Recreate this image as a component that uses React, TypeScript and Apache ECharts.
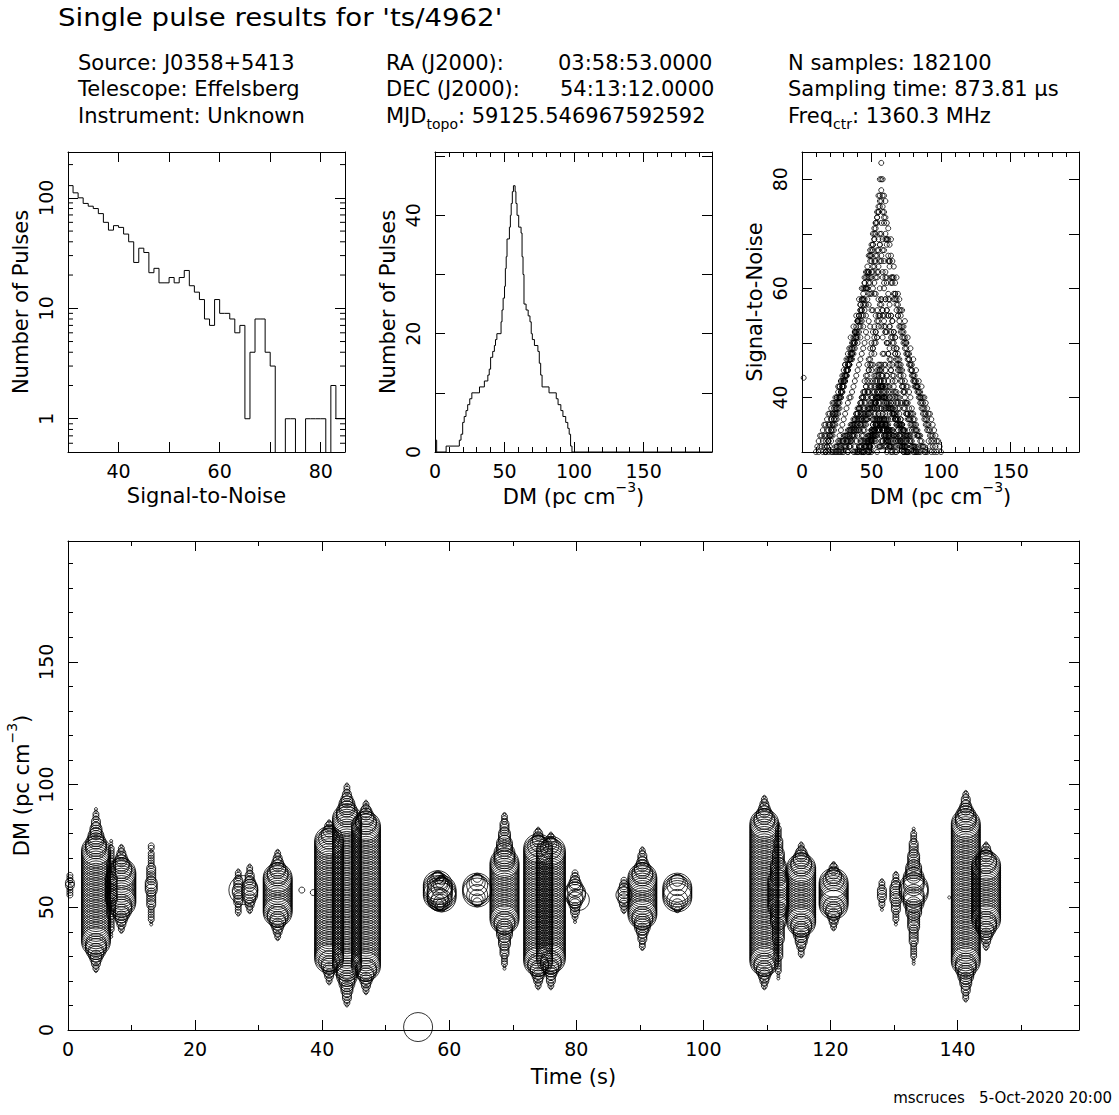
import React, { useEffect, useRef } from 'react';
import * as echarts from 'echarts';

const FONT = "'DejaVu Sans', 'Liberation Sans', sans-serif";
const INK = '#000';

// ---------- axis ranges ----------
const SNR_MIN = 30;
const SNR_MAX = 84.8;
const DM_MAX = 199.2;
const T_MAX = 159.12;
const HIST_Y_MAX = 50.7;

// ---------- panel 1: S/N histogram (bin left edges, counts) ----------
const snrBinEdges = [30, 31, 32, 33, 34, 35, 36, 37, 38, 39, 40, 41, 42, 43, 44, 45, 46, 47, 48, 49, 50, 51, 52, 53, 54, 55, 56, 57, 58, 59, 60, 61, 62, 63, 64, 65, 66, 67, 68, 69, 70, 71, 72, 73, 74, 75, 76, 77, 78, 79, 80, 81, 82, 83, 84];
const snrCounts = [129, 111, 100, 89, 84, 80, 72, 60, 51, 56, 54, 47, 40, 26, 35, 32, 21, 23, 17, 17, 19, 17, 19, 22, 16, 14, 12, 8, 7, 12, 9, 9, 8, 6, 7, 1, 4, 8, 8, 4, 3, 0, 0, 1, 1, 0, 0, 1, 1, 1, 1, 0, 2, 1, 1];
const logMinorTicks = [0.6, 0.7, 0.8, 0.9, 2, 3, 4, 5, 6, 7, 8, 9, 20, 30, 40, 50, 60, 70, 80, 90, 200];

// ---------- panel 2: DM histogram (step left edges, counts) ----------
const dmHistEdges = [0, 1.2, 8, 17.5, 18.7, 19.9, 21, 22.3, 23.5, 25, 26.5, 32, 35.5, 38, 39, 40, 41.5, 42.7, 43.5, 44.5, 47.5, 48.2, 49, 50, 50.6, 51.2, 51.8, 53.5, 54.2, 54.8, 55.6, 56.4, 57.6, 58.2, 59, 60.2, 61.9, 62.6, 63.3, 64, 65.5, 67, 68.3, 69.2, 70, 71.5, 74, 75, 76, 77, 82, 87.2, 88.5, 90.5, 92, 94, 95.5, 96.5, 97.5, 98.5, 199.2];
const dmHistCounts = [2, 0, 1, 2, 3, 5, 6, 7, 8, 9, 10, 11, 12, 13, 14, 16, 17, 18, 19, 20, 22, 24, 26, 28, 31, 33, 36, 38, 40, 42, 44, 45, 44, 42, 40, 38, 37, 33, 30, 25, 24, 23, 22, 20, 19, 18, 17, 15, 13, 11, 10, 9, 8, 7, 6, 5, 4, 3, 1, 0, 0];

// ---------- single pulse candidates ----------
// each pulse: first DM trial (dm0) and S/N at successive 1 pc cm^-3 DM trials
const pulseTimes = [0.3, 4.4, 6.8, 8.4, 13.1, 26.8, 27.6, 28.6, 33.0, 36.8, 38.6, 41.1, 43.9, 46.9, 55.1, 58.2, 58.8, 64.4, 68.7, 74.0, 76.0, 79.8, 80.4, 87.5, 90.4, 95.9, 109.6, 111.8, 115.4, 120.5, 128.1, 130.3, 133.1, 138.7, 141.3, 144.5];

const p01 = { dm0: 55, sn: [31, 31, 32, 32, 33, 33, 32, 32, 31] };
const p02 = { dm0: 24, sn: [30, 31, 32, 33, 34, 35, 36, 37, 38, 39, 40, 40, 41, 42, 43, 44, 45, 46, 47, 48, 49, 50, 52, 51, 54, 53, 56, 56, 59, 59, 62, 63, 68, 65, 62, 60, 58, 56, 55, 53, 52, 51, 50, 48, 47, 46, 45, 44, 42, 41, 40, 39, 39, 38, 37, 37, 36, 35, 35, 34, 33, 33, 32, 31, 31, 30, 30] };
const p03 = { dm0: 38, sn: [30, 30, 30, 31, 31, 31, 32, 32, 32, 33, 33, 33, 34, 34, 34, 35, 35, 35, 36, 36, 36, 36, 35, 35, 35, 34, 34, 34, 33, 33, 33, 32, 32, 32, 31, 31, 31, 30, 30, 30] };
const p04 = { dm0: 40, sn: [30, 31, 32, 33, 34, 35, 36, 37, 38, 39, 40, 40, 41, 42, 43, 44, 45, 46, 48, 46, 45, 44, 43, 42, 41, 40, 39, 38, 37, 36, 35, 34, 33, 32, 31, 30] };
const p05 = { dm0: 43, sn: [30, 30, 31, 31, 31, 32, 32, 32, 33, 33, 33, 34, 34, 34, 35, 35, 35, 35, 34, 34, 34, 33, 33, 33, 32, 32, 32, 31, 31, 31, 30, 31, 32] };
const p06 = { dm0: 47, sn: [30, 31, 31, 32, 32, 33, 33, 34, 34, 35, 35, 34, 34, 33, 33, 32, 31, 31, 30] };
const p07 = { dm0: 57, sn: [42] };
const p08 = { dm0: 48, sn: [30, 31, 32, 33, 34, 35, 36, 37, 38, 38, 37, 36, 35, 34, 34, 33, 32, 31, 31, 30] };
const p09 = { dm0: 37, sn: [30, 31, 32, 33, 34, 35, 36, 37, 38, 39, 40, 41, 43, 45, 46, 48, 50, 51, 53, 55, 53, 51, 48, 46, 44, 42, 40, 39, 38, 37, 36, 35, 34, 33, 32, 31, 30] };
const p10 = { dm0: 57, sn: [31] };
const p11 = { dm0: 56, sn: [31] };
const p12 = { dm0: 19, sn: [30, 31, 32, 33, 34, 35, 36, 37, 38, 40, 41, 42, 43, 44, 45, 46, 47, 48, 49, 50, 52, 51, 54, 53, 56, 55, 58, 57, 60, 59, 61, 62, 63, 64, 65, 66, 67, 68, 70, 67, 65, 62, 61, 58, 57, 55, 54, 52, 51, 49, 48, 47, 46, 45, 44, 43, 42, 42, 41, 40, 38, 37, 36, 34, 33, 31, 30] };
const p13 = { dm0: 10, sn: [30, 31, 32, 33, 33, 34, 35, 35, 36, 37, 37, 38, 39, 39, 40, 40, 42, 42, 43, 43, 44, 46, 45, 47, 46, 49, 48, 51, 50, 53, 52, 55, 54, 58, 57, 61, 60, 63, 62, 66, 67, 68, 70, 72, 74, 77, 80, 83, 80, 77, 76, 72, 71, 68, 69, 65, 64, 61, 62, 59, 58, 56, 56, 53, 54, 50, 51, 48, 49, 46, 47, 44, 45, 42, 43, 41, 42, 40, 40, 39, 38, 37, 37, 36, 35, 34, 33, 32, 32, 31, 30] };
const p14 = { dm0: 15, sn: [30, 31, 32, 33, 34, 35, 36, 37, 38, 39, 40, 41, 42, 43, 44, 45, 46, 47, 48, 49, 51, 50, 53, 52, 55, 54, 58, 57, 60, 60, 62, 63, 64, 66, 67, 68, 70, 71, 72, 73, 74, 75, 76, 74, 72, 69, 68, 65, 64, 61, 61, 58, 58, 56, 55, 53, 52, 51, 50, 49, 48, 47, 46, 45, 44, 43, 42, 42, 41, 40, 39, 38, 37, 36, 35, 34, 32, 31, 30] };
const p15 = { dm0: 1.2, sn: [43.6] };
const p16 = { dm0: 51, sn: [36, 38, 39, 40, 41, 42, 42, 42, 41, 40, 38, 36, 34] };
const p17 = { dm0: 50, sn: [33, 35, 37, 39, 41, 42, 43, 42, 40, 38, 36, 34, 32] };
const p18 = { dm0: 52, sn: [34, 36, 38, 40, 42, 42, 42, 40, 38, 36, 33] };
const p19 = { dm0: 25, sn: [30, 30, 31, 31, 32, 32, 33, 33, 34, 34, 35, 35, 36, 36, 37, 37, 38, 38, 39, 40, 41, 42, 43, 45, 46, 48, 49, 51, 52, 54, 55, 57, 58, 56, 55, 53, 52, 50, 49, 47, 46, 44, 43, 41, 40, 40, 39, 39, 38, 38, 37, 37, 36, 36, 35, 35, 34, 34, 33, 33, 32, 31, 31, 30] };
const p20 = { dm0: 17, sn: [30, 31, 32, 33, 34, 35, 36, 37, 38, 39, 40, 41, 42, 43, 44, 45, 46, 47, 48, 49, 50, 52, 51, 54, 53, 56, 55, 58, 57, 60, 60, 61, 62, 63, 64, 65, 66, 67, 69, 70, 72, 69, 67, 63, 62, 59, 58, 55, 54, 52, 51, 49, 47, 46, 45, 43, 42, 41, 39, 37, 36, 35, 34, 33, 31, 30] };
const p21 = { dm0: 17, sn: [30, 31, 32, 33, 33, 34, 35, 36, 37, 38, 39, 40, 41, 42, 43, 44, 45, 46, 47, 47, 48, 49, 51, 50, 52, 51, 54, 53, 56, 55, 58, 57, 59, 59, 60, 61, 62, 63, 64, 65, 66, 63, 61, 58, 56, 55, 53, 51, 50, 49, 48, 46, 45, 44, 43, 42, 41, 39, 37, 36, 34, 33, 31, 30] };
const p22 = { dm0: 44, sn: [30, 30, 31, 32, 33, 33, 34, 35, 36, 37, 38, 39, 39, 38, 37, 36, 35, 34, 33, 32, 31] };
const p23 = { dm0: 53, sn: [39] };
const p24 = { dm0: 48, sn: [30, 31, 32, 33, 34, 35, 36, 37, 36, 35, 34, 33, 32, 31] };
const p25 = { dm0: 33, sn: [30, 31, 31, 32, 33, 34, 34, 35, 36, 37, 37, 38, 39, 40, 41, 41, 42, 42, 43, 44, 44, 45, 46, 45, 44, 44, 43, 42, 42, 41, 40, 39, 38, 37, 36, 35, 34, 33, 33, 32, 31, 30] };
const p26 = { dm0: 49, sn: [32, 34, 36, 38, 40, 41, 42, 43, 43, 42, 40, 37, 35] };
const p27 = { dm0: 17, sn: [30, 31, 32, 33, 34, 35, 36, 37, 38, 39, 40, 41, 42, 43, 44, 45, 46, 47, 48, 49, 50, 52, 51, 54, 55, 57, 56, 59, 60, 62, 62, 63, 65, 66, 67, 69, 70, 72, 74, 76, 78, 75, 73, 70, 69, 66, 65, 62, 62, 59, 59, 57, 55, 54, 53, 52, 51, 50, 49, 48, 47, 46, 45, 44, 43, 42, 42, 41, 40, 39, 38, 37, 36, 35, 34, 33, 32, 31, 30] };
const p28 = { dm0: 21, sn: [30, 30, 30, 31, 31, 31, 32, 32, 32, 33, 33, 33, 33, 34, 34, 34, 35, 35, 35, 36, 36, 36, 36, 37, 37, 37, 38, 38, 38, 39, 39, 39, 40, 40, 40, 40, 40, 40, 39, 39, 39, 38, 38, 38, 37, 37, 37, 36, 36, 35, 35, 35, 34, 34, 33, 33, 33, 32, 32, 31, 31, 31, 30, 30] };
const p29 = { dm0: 30, sn: [30, 31, 32, 32, 33, 34, 35, 35, 36, 37, 38, 38, 39, 40, 41, 43, 44, 46, 47, 49, 50, 52, 53, 55, 56, 58, 60, 58, 56, 54, 52, 50, 48, 46, 45, 43, 41, 40, 39, 38, 37, 36, 35, 34, 32, 31, 30] };
const p30 = { dm0: 41, sn: [30, 31, 32, 33, 34, 35, 36, 37, 38, 40, 41, 42, 43, 44, 45, 46, 45, 44, 43, 41, 40, 38, 37, 36, 34, 33, 31, 30] };
const p31 = { dm0: 49, sn: [30, 30, 31, 32, 32, 33, 34, 34, 33, 32, 31, 31, 30] };
const p32 = { dm0: 43, sn: [30, 30, 31, 31, 32, 32, 33, 33, 34, 34, 35, 35, 36, 36, 35, 35, 34, 33, 32, 32, 31, 30] };
const p33 = { dm0: 27, sn: [30, 30, 30, 31, 31, 31, 32, 32, 32, 33, 33, 33, 34, 34, 34, 35, 35, 35, 36, 36, 36, 37, 37, 38, 38, 39, 39, 40, 40, 41, 42, 41, 40, 40, 39, 39, 38, 38, 37, 37, 36, 36, 35, 35, 35, 34, 34, 33, 33, 33, 32, 32, 31, 31, 30, 30] };
const p34 = { dm0: 54, sn: [30] };
const p35 = { dm0: 12, sn: [30, 31, 31, 32, 33, 33, 34, 35, 35, 36, 37, 37, 38, 39, 40, 40, 41, 42, 43, 44, 44, 45, 46, 47, 48, 50, 51, 52, 54, 55, 56, 58, 58, 61, 60, 63, 63, 66, 65, 68, 69, 71, 73, 75, 77, 80, 77, 74, 73, 69, 69, 65, 66, 62, 62, 59, 58, 57, 56, 55, 53, 52, 51, 50, 48, 47, 46, 45, 44, 43, 43, 42, 41, 40, 40, 39, 38, 37, 36, 35, 34, 33, 33, 32, 31, 30] };
const p36 = { dm0: 33, sn: [30, 31, 32, 33, 34, 35, 36, 37, 38, 39, 40, 40, 41, 42, 44, 45, 47, 46, 49, 50, 52, 51, 54, 55, 57, 55, 53, 52, 50, 48, 47, 45, 44, 42, 41, 40, 39, 38, 36, 35, 34, 33, 31, 30] };

const pulseList = [p01, p02, p03, p04, p05, p06, p07, p08, p09, p10, p11, p12, p13, p14, p15, p16, p17, p18, p19, p20, p21, p22, p23, p24, p25, p26, p27, p28, p29, p30, p31, p32, p33, p34, p35, p36];

// PGPLOT circle symbols 20..26 (diameters in px)
const SYMBOL_DIAMETERS = [3, 6, 9, 12, 16, 21, 29];

// ---------- layout ----------
const GRIDS = [
  { left: 68, top: 152, width: 277, height: 300 },
  { left: 435, top: 152, width: 277, height: 300 },
  { left: 802, top: 152, width: 277, height: 300 },
  { left: 68, top: 541, width: 1011, height: 489 },
];

const TICK_FONT = 19;
const NAME_FONT = 21;

function valAxis(gridIndex: number, position: string, min: number, max: number, interval: number, tickLen: number, showLine: boolean, extra: any = {}) {
  return {
    type: 'value',
    gridIndex,
    position,
    min,
    max,
    interval,
    nameMoveOverlap: false,
    axisLine: { show: showLine, onZero: false, lineStyle: { color: INK, width: 1 } },
    axisTick: { show: true, inside: true, length: tickLen, lineStyle: { color: INK, width: 1 } },
    splitLine: { show: false },
    minorTick: { show: false },
    axisLabel: { show: false },
    ...extra,
  };
}

const xLabel = (formatter: (v: number) => string) => ({
  show: true,
  margin: 9,
  fontSize: TICK_FONT,
  fontFamily: FONT,
  color: INK,
  showMinLabel: true,
  showMaxLabel: false,
  formatter,
});
const yLabel = (formatter: (v: number) => string) => ({
  show: true,
  margin: 13,
  rotate: 90,
  fontSize: TICK_FONT,
  fontFamily: FONT,
  color: INK,
  showMinLabel: true,
  showMaxLabel: false,
  formatter,
});
const nameStyle = { fontSize: NAME_FONT, fontFamily: FONT, color: INK };
const dmName = '{n|DM (pc cm}{s|\u22123}{n|)}';
const dmNameStyle = {
  ...nameStyle,
  rich: {
    n: { fontSize: NAME_FONT, fontFamily: FONT, color: INK, lineHeight: 34 },
    s: { fontSize: 14, fontFamily: FONT, color: INK, verticalAlign: 'top', lineHeight: 14 },
  },
};

const every = (step: number) => (v: number) => (Math.abs(v / step - Math.round(v / step)) < 1e-6 ? String(Math.round(v)) : '');

function buildOption() {
  const xAxis: any[] = [
    // 0,1 panel 1
    valAxis(0, 'bottom', SNR_MIN, SNR_MAX, 10, 10, true, {
      axisLabel: xLabel(every(20)),
      name: 'Signal-to-Noise', nameLocation: 'middle', nameGap: 33, nameTextStyle: nameStyle,
    }),
    valAxis(0, 'top', SNR_MIN, SNR_MAX, 10, 10, true),
    // 2-5 panel 2
    valAxis(1, 'bottom', 0, DM_MAX, 50, 10, true, {
      axisLabel: xLabel(every(50)),
      name: dmName, nameLocation: 'middle', nameGap: 28, nameTextStyle: dmNameStyle,
    }),
    valAxis(1, 'bottom', 0, DM_MAX, 10, 5, false),
    valAxis(1, 'top', 0, DM_MAX, 50, 10, true),
    valAxis(1, 'top', 0, DM_MAX, 10, 5, false),
    // 6-9 panel 3
    valAxis(2, 'bottom', 0, DM_MAX, 50, 10, true, {
      axisLabel: xLabel(every(50)),
      name: dmName, nameLocation: 'middle', nameGap: 28, nameTextStyle: dmNameStyle,
    }),
    valAxis(2, 'bottom', 0, DM_MAX, 10, 5, false),
    valAxis(2, 'top', 0, DM_MAX, 50, 10, true),
    valAxis(2, 'top', 0, DM_MAX, 10, 5, false),
    // 10-13 bottom panel
    valAxis(3, 'bottom', 0, T_MAX, 20, 10, true, {
      axisLabel: xLabel(every(20)),
      name: 'Time (s)', nameLocation: 'middle', nameGap: 36, nameTextStyle: nameStyle,
    }),
    valAxis(3, 'bottom', 0, T_MAX, 10, 5, false),
    valAxis(3, 'top', 0, T_MAX, 20, 10, true),
    valAxis(3, 'top', 0, T_MAX, 10, 5, false),
  ];

  const logAxis = (position: string, extra: any = {}) => ({
    type: 'log',
    logBase: 10,
    gridIndex: 0,
    position,
    min: 0.5,
    max: 260,
    nameMoveOverlap: false,
    axisLine: { show: true, onZero: false, lineStyle: { color: INK, width: 1 } },
    axisTick: { show: true, inside: true, length: 10, lineStyle: { color: INK, width: 1 } },
    splitLine: { show: false },
    axisLabel: { show: false },
    ...extra,
  });

  const yAxis: any[] = [
    // 0,1 panel 1 (log)
    logAxis('left', {
      axisLabel: { ...yLabel((v: number) => String(Math.round(v))), showMinLabel: false, showMaxLabel: false },
      name: 'Number of Pulses', nameLocation: 'middle', nameRotate: 90, nameGap: 37, nameTextStyle: nameStyle,
    }),
    logAxis('right'),
    // 2,3 panel 2
    valAxis(1, 'left', 0, HIST_Y_MAX, 10, 10, true, {
      axisLabel: yLabel(every(20)),
      name: 'Number of Pulses', nameLocation: 'middle', nameRotate: 90, nameGap: 37, nameTextStyle: nameStyle,
    }),
    valAxis(1, 'right', 0, HIST_Y_MAX, 10, 10, true),
    // 4,5 panel 3
    valAxis(2, 'left', SNR_MIN, 85, 10, 10, true, {
      axisLabel: yLabel(every(20)),
      name: 'Signal-to-Noise', nameLocation: 'middle', nameRotate: 90, nameGap: 37, nameTextStyle: nameStyle,
    }),
    valAxis(2, 'right', SNR_MIN, 85, 10, 10, true),
    // 6-9 bottom panel
    valAxis(3, 'left', 0, DM_MAX, 50, 10, true, {
      axisLabel: yLabel(every(50)),
      name: dmName, nameLocation: 'middle', nameRotate: 90, nameGap: 29, nameTextStyle: dmNameStyle,
    }),
    valAxis(3, 'left', 0, DM_MAX, 10, 5, false),
    valAxis(3, 'right', 0, DM_MAX, 50, 10, true),
    valAxis(3, 'right', 0, DM_MAX, 10, 5, false),
  ];

  const LOG_FLOOR = 0.1;
  const snrHist: number[][] = snrBinEdges.map((x, i) => [x, snrCounts[i] > 0 ? snrCounts[i] : LOG_FLOOR]);
  const lastCount = snrCounts[snrCounts.length - 1];
  snrHist.push([snrBinEdges[snrBinEdges.length - 1] + 1, lastCount > 0 ? lastCount : LOG_FLOOR]);

  const dmHist = dmHistEdges.map((x, i) => [x, dmHistCounts[i]]);

  const scatterSnrDm: number[][] = [];
  const scatterTimeDm: number[][] = [];
  pulseList.forEach((p, i) => {
    p.sn.forEach((sn, k) => {
      const dm = p.dm0 + k;
      scatterSnrDm.push([dm, sn]);
      scatterTimeDm.push([pulseTimes[i], dm, sn]);
    });
  });

  const series: any[] = [
    {
      type: 'line', xAxisIndex: 0, yAxisIndex: 0, step: 'end', symbol: 'none', silent: true, clip: true,
      lineStyle: { color: INK, width: 1 }, data: snrHist,
    },
    {
      type: 'custom', xAxisIndex: 0, yAxisIndex: 0, silent: true,
      data: logMinorTicks.map((v) => [SNR_MIN, v]),
      renderItem: (params: any, api: any) => {
        const v = api.value(1);
        const l = api.coord([SNR_MIN, v]);
        const r = api.coord([SNR_MAX, v]);
        return {
          type: 'group',
          children: [
            { type: 'line', shape: { x1: l[0], y1: l[1], x2: l[0] + 5, y2: l[1] }, style: { stroke: INK, lineWidth: 1 } },
            { type: 'line', shape: { x1: r[0] - 5, y1: r[1], x2: r[0], y2: r[1] }, style: { stroke: INK, lineWidth: 1 } },
          ],
        };
      },
    },
    {
      type: 'line', xAxisIndex: 2, yAxisIndex: 2, step: 'end', symbol: 'none', silent: true, clip: true,
      lineStyle: { color: INK, width: 1 }, data: dmHist,
    },
    {
      type: 'scatter', xAxisIndex: 6, yAxisIndex: 4, silent: true, progressive: 0, large: false,
      symbol: 'circle', symbolSize: 5,
      itemStyle: { color: 'rgba(0,0,0,0)', borderColor: INK, borderWidth: 1 },
      data: scatterSnrDm,
    },
    {
      type: 'scatter', xAxisIndex: 10, yAxisIndex: 6, silent: true, progressive: 0, large: false,
      symbol: 'circle',
      symbolSize: (val: number[]) => {
        const lvl = Math.min(6, Math.max(0, Math.floor((val[2] - 30) / 2 + 0.5)));
        return SYMBOL_DIAMETERS[lvl];
      },
      encode: { x: 0, y: 1 },
      itemStyle: { color: 'rgba(0,0,0,0)', borderColor: INK, borderWidth: 1 },
      data: scatterTimeDm,
    },
  ];

  const txt = (x: number, y: number, text: string, size: number, extra: any = {}) => ({
    type: 'text',
    x,
    y,
    silent: true,
    ...extra,
    style: {
      text,
      fontSize: size,
      fontFamily: FONT,
      fill: INK,
      align: 'left',
      verticalAlign: 'middle',
      textAlign: 'left',
      textVerticalAlign: 'middle',
      ...(extra.style || {}),
    },
  });

  const subRich = {
    n: { fontSize: 21, fontFamily: FONT, fill: INK, color: INK, lineHeight: 30 },
    b: { fontSize: 14, fontFamily: FONT, fill: INK, color: INK, verticalAlign: 'bottom', lineHeight: 16 },
  };

  const graphic: any[] = [
    txt(58, 18, "Single pulse results for 'ts/4962'", 24, { scaleX: 1.15 }),
    txt(78, 63, 'Source: J0358+5413', 21),
    txt(78, 89, 'Telescope: Effelsberg', 21),
    txt(78, 116, 'Instrument: Unknown', 21),
    txt(386, 63, 'RA (J2000):', 21),
    txt(558, 63, '03:58:53.0000', 21),
    txt(386, 89, 'DEC (J2000):', 21),
    txt(560, 89, '54:13:12.0000', 21),
    txt(386, 116, '{n|MJD}{b|topo}{n|: 59125.546967592592}', 21, { style: { rich: subRich } }),
    txt(788, 63, 'N samples: 182100', 21),
    txt(788, 89, 'Sampling time: 873.81 \u03bcs', 21),
    txt(788, 116, '{n|Freq}{b|ctr}{n|: 1360.3 MHz}', 21, { style: { rich: subRich } }),
    txt(1112, 1098, 'mscruces   5-Oct-2020 20:00', 15, { style: { align: 'right', textAlign: 'right' } }),
  ];

  return {
    animation: false,
    backgroundColor: '#fff',
    textStyle: { fontFamily: FONT },
    grid: GRIDS.map((g) => ({ ...g, containLabel: false, outerBoundsMode: 'none' })),
    xAxis,
    yAxis,
    series,
    graphic,
  };
}

export default function App() {
  const ref = useRef<HTMLDivElement>(null);
  useEffect(() => {
    document.body.style.margin = '0';
    document.body.style.overflow = 'hidden';
    if (!ref.current) return;
    const chart = echarts.init(ref.current, undefined, { renderer: 'svg' });
    chart.setOption(buildOption() as any);
    return () => chart.dispose();
  }, []);
  return <div ref={ref} style={{ width: 1119, height: 1115 }} />;
}
